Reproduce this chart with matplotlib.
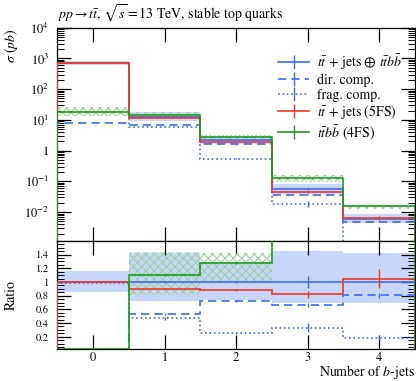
import matplotlib
matplotlib.use("Agg")
import matplotlib.pyplot as plt
import numpy as np
from matplotlib.lines import Line2D
from matplotlib.ticker import LogLocator, NullFormatter, FuncFormatter, MultipleLocator, FixedLocator

plt.rcParams['font.family'] = ['STIXGeneral', 'DejaVu Serif']
plt.rcParams['mathtext.fontset'] = 'stix'
plt.rcParams['hatch.linewidth'] = 0.8

# number of b-jets (bin centres)
nbjets = np.array([0, 1, 2, 3, 4])

# cross sections in pb
total = np.array([700.0, 12.8, 2.2, 0.056, 0.0061])      # tt+jets (+) ttbb
dir_comp = np.array([8.0, 6.8, 1.6, 0.037, 0.0049])
frag_comp = np.array([692.0, 6.0, 0.55, 0.0185, 0.0011])
tt_5fs = np.array([700.0, 11.4, 1.94, 0.046, 0.0064])
ttbb_4fs = np.array([18.6, 14.1, 2.8, 0.125, 0.0164])

# relative uncertainty bands
total_lo = np.array([0.86, 0.727, 0.74, 0.69, 0.70])
total_hi = np.array([1.165, 1.43, 1.28, 1.45, 1.43])
ttbb_lo = np.array([0.70, 0.74, 0.80, 0.74, 0.78])
ttbb_hi = np.array([1.45, 1.30, 1.12, 1.28, 1.06])

# relative statistical errors
total_err = np.array([0.003, 0.01, 0.01, 0.085, 0.05])
dir_err = np.array([0.01, 0.02, 0.02, 0.04, 0.04])
frag_err = np.array([0.003, 0.04, 0.05, 0.2, 0.17])
tt_5fs_err = np.array([0.003, 0.01, 0.02, 0.06, 0.13])
ttbb_err = np.array([0.005, 0.01, 0.01, 0.03, 0.03])

ratio_ticks = [0.2, 0.4, 0.6, 0.8, 1.0, 1.2, 1.4]

blue = '#3d6cf2'
band_blue = '#c8d6fb'
red = '#ee3a22'
green = '#1f9a1f'
hatch_green = '#9ad59a'

edges = np.append(nbjets - 0.5, nbjets[-1] + 0.5)

fig = plt.figure(figsize=(4.16, 3.81), dpi=100)
ax = fig.add_axes([0.138, 0.3675, 0.8596, 0.5596])
rax = fig.add_axes([0.138, 0.084, 0.8596, 0.2835], sharex=ax)

series = [
    (frag_comp, frag_err, blue, ':', 'frag. comp.'),
    (dir_comp, dir_err, blue, (0, (5, 3)), 'dir. comp.'),
    (total, total_err, blue, '-', r'$t\bar{t}$ + jets $\oplus$ $t\bar{t}b\bar{b}$'),
    (tt_5fs, tt_5fs_err, red, '-', r'$t\bar{t}$ + jets (5FS)'),
    (ttbb_4fs, ttbb_err, green, '-', r'$t\bar{t}b\bar{b}$ (4FS)'),
]

for a, ref in [(ax, None), (rax, total)]:
    scale = 1.0 if ref is None else 1.0 / ref
    base = total * scale
    a.stairs(base * total_hi, edges, baseline=base * total_lo, fill=True,
             color=band_blue, lw=0, zorder=1)
    gb = ttbb_4fs * scale
    a.stairs(gb * ttbb_hi, edges, baseline=gb * ttbb_lo, fill=True,
             facecolor='none', edgecolor=hatch_green, hatch='xxxx', lw=0, zorder=2)
    for vals, err, col, ls, lab in series:
        v = vals * scale
        a.stairs(v, edges, color=col, linestyle=ls, lw=1.2, zorder=3)
        a.errorbar(nbjets, v, yerr=v * err, fmt='none', ecolor=col, elinewidth=1, zorder=3)

ax.set_yscale('log')
ax.set_ylim(1.15e-3, 1e4)
ax.set_xlim(-0.5, 4.5)
ax.yaxis.set_major_locator(LogLocator(base=10, numticks=20))
ax.yaxis.set_minor_locator(LogLocator(base=10, subs=np.arange(2, 10), numticks=100))
ax.yaxis.set_minor_formatter(NullFormatter())


def log_label(v, pos):
    k = int(round(np.log10(v)))
    return '1' if k == 0 else r'$10^{%d}$' % k


ax.yaxis.set_major_formatter(FuncFormatter(log_label))
ax.tick_params(labelbottom=False)

rax.set_ylim(0.02, 1.6)
rax.yaxis.set_major_locator(FixedLocator(ratio_ticks))
rax.yaxis.set_minor_locator(MultipleLocator(0.05))
rax.yaxis.set_major_formatter(FuncFormatter(lambda v, p: '%g' % round(v, 2)))
rax.set_xticks(nbjets)

for a in (ax, rax):
    a.tick_params(which='both', direction='in', top=True, right=True, labelsize=9)
    a.tick_params(which='major', length=10, width=0.9)
    a.tick_params(axis='y', which='minor', length=5, width=0.7)
    a.tick_params(axis='x', which='minor', length=0)
    a.tick_params(axis='y', which='major', pad=6)
    for s in a.spines.values():
        s.set_linewidth(0.9)
rax.tick_params(axis='y', labelsize=7.5)
rax.tick_params(axis='x', pad=2.5)

ax.set_title(r'$pp \rightarrow t\bar{t}$, $\sqrt{s} = 13$ TeV, stable top quarks',
             loc='left', fontsize=10, pad=6)
ax.set_ylabel(r'$\sigma$ ($pb$)', loc='top', fontsize=10)
ax.yaxis.set_label_coords(-0.105, 1.0)
rax.set_ylabel('Ratio', fontsize=10)
rax.yaxis.set_label_coords(-0.11, 0.5)
rax.set_xlabel(r'Number of $b$-jets', loc='right', fontsize=10, labelpad=-1)

handles = [
    Line2D([], [], color=blue, ls='-', lw=1.2, marker='|', ms=10, mew=1),
    Line2D([], [], color=blue, ls=(0, (5, 3)), lw=1.2, marker='|', ms=10, mew=1),
    Line2D([], [], color=blue, ls=':', lw=1.2, marker='|', ms=10, mew=1),
    Line2D([], [], color=red, ls='-', lw=1.2, marker='|', ms=10, mew=1),
    Line2D([], [], color=green, ls='-', lw=1.2, marker='|', ms=10, mew=1),
]
labels = [series[2][4], series[1][4], series[0][4], series[3][4], series[4][4]]
ax.legend(handles, labels, loc='upper right', bbox_to_anchor=(1.0, 0.945), frameon=False,
          fontsize=10, handlelength=2.2, handletextpad=0.6, labelspacing=0.12, numpoints=1)

fig.savefig('out.png', dpi=100)
